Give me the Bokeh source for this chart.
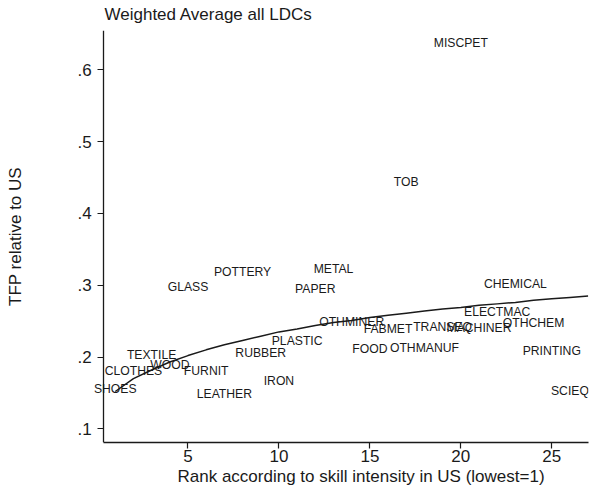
from bokeh.plotting import figure
from bokeh.models import (Range1d, FixedTicker, CustomJSTickFormatter, Title,
                          ColumnDataSource, LinearAxis)
from bokeh.core.properties import value
from bokeh.embed import file_html
from bokeh.resources import INLINE

# Industry labels, their skill-intensity rank and TFP relative to US
industries = ["SHOES", "CLOTHES", "TEXTILE", "WOOD", "GLASS", "FURNIT", "LEATHER",
              "POTTERY", "RUBBER", "IRON", "PLASTIC", "PAPER", "METAL", "OTHMINER",
              "FOOD", "FABMET", "TOB", "OTHMANUF", "TRANSEQ", "MISCPET", "MACHINER",
              "ELECTMAC", "CHEMICAL", "OTHCHEM", "PRINTING", "SCIEQ"]
rank = [1, 2, 3, 4, 5, 6, 7, 8, 9, 10, 11, 12, 13, 14, 15, 16, 17, 18, 19, 20,
        21, 22, 23, 24, 25, 26]
tfp = [0.156, 0.180, 0.203, 0.189, 0.297, 0.180, 0.148, 0.319, 0.206, 0.167,
       0.223, 0.295, 0.323, 0.249, 0.211, 0.239, 0.444, 0.2125, 0.242, 0.637,
       0.241, 0.262, 0.301, 0.2467, 0.209, 0.153]

# Fitted curve
fit_x = [1, 2, 3, 4, 5, 6, 7, 8, 9, 10, 11, 12, 13, 14, 15, 16, 17, 18, 19, 20,
         21, 22, 23, 24, 25, 26, 27]
fit_y = [0.152, 0.170, 0.182, 0.193, 0.202, 0.210, 0.217, 0.223, 0.229, 0.235,
         0.239, 0.244, 0.248, 0.251, 0.255, 0.258, 0.261, 0.264, 0.267, 0.269,
         0.272, 0.274, 0.276, 0.279, 0.281, 0.283, 0.285]

x_ticks = [5, 10, 15, 20, 25]
y_ticks = [0.1, 0.2, 0.3, 0.4, 0.5, 0.6]

# axis extents (data units)
x_lo, x_hi = 0.37, 27.02
y_lo, y_hi = 0.081, 0.6546

title_text = "Weighted Average all LDCs"
x_title = "Rank according to skill intensity in US (lowest=1)"
y_title = "TFP relative to US"

FONT = "Liberation Sans"
INK = "#1a1a1a"
BIG = "17px"

# frame starts left of the y axis so the labels next to it are not clipped
p = figure(width=590, height=491, output_backend="svg", toolbar_location=None,
           x_range=Range1d(x_lo - 2.38, x_hi), y_range=Range1d(y_lo, y_hi),
           min_border_left=60, min_border_right=2, min_border_top=29,
           min_border_bottom=49)
p.outline_line_color = None
p.grid.visible = False
p.background_fill_color = "white"
p.border_fill_color = "white"

for ax in (p.xaxis[0], p.yaxis[0]):
    ax.axis_line_color = INK
    ax.axis_line_width = 1.3
    ax.major_tick_line_color = INK
    ax.major_tick_line_width = 1.2
    ax.major_tick_out = 6
    ax.major_tick_in = 0
    ax.minor_tick_line_color = None
    ax.major_label_text_font = FONT
    ax.major_label_text_font_size = BIG
    ax.major_label_text_color = INK

p.xaxis.ticker = FixedTicker(ticks=x_ticks)
p.xaxis.bounds = (x_lo, x_hi)
p.yaxis.ticker = FixedTicker(ticks=y_ticks)
p.yaxis.bounds = (y_lo, y_hi)
p.yaxis.fixed_location = x_lo
p.yaxis.formatter = CustomJSTickFormatter(code="return tick.toFixed(1).replace(/^0/, '');")
p.xaxis.major_label_standoff = 1
p.yaxis.major_label_standoff = 6
p.yaxis.major_label_orientation = "horizontal"

# a second, bare left axis that only carries the y title
title_axis = LinearAxis(ticker=FixedTicker(ticks=[]), axis_line_color=None,
                        major_tick_line_color=None, minor_tick_line_color=None,
                        axis_label=y_title, axis_label_text_font=FONT,
                        axis_label_text_font_size=BIG,
                        axis_label_text_font_style="normal",
                        axis_label_text_color=INK, axis_label_standoff=36)
p.add_layout(title_axis, "left")

p.title.text = title_text
p.title.align = "left"
p.title.offset = 44
p.title.text_font = FONT
p.title.text_font_size = BIG
p.title.text_font_style = "normal"
p.title.text_color = INK
p.title.standoff = 9
p.title.vertical_align = "top"

p.add_layout(Title(text=x_title, align="left", offset=117, text_font=FONT,
                   text_font_size=BIG, text_font_style="normal",
                   text_color=INK, standoff=0), "below")

p.line(fit_x, fit_y, line_color=INK, line_width=1.5)

src = ColumnDataSource(dict(x=rank, y=tfp, t=industries))
p.text(x="x", y="y", text="t", source=src, text_align="center",
       text_baseline="middle", text_font=value(FONT), text_font_size="12.2px",
       text_color=INK)

open("out.html", "w").write(file_html(p, INLINE))
